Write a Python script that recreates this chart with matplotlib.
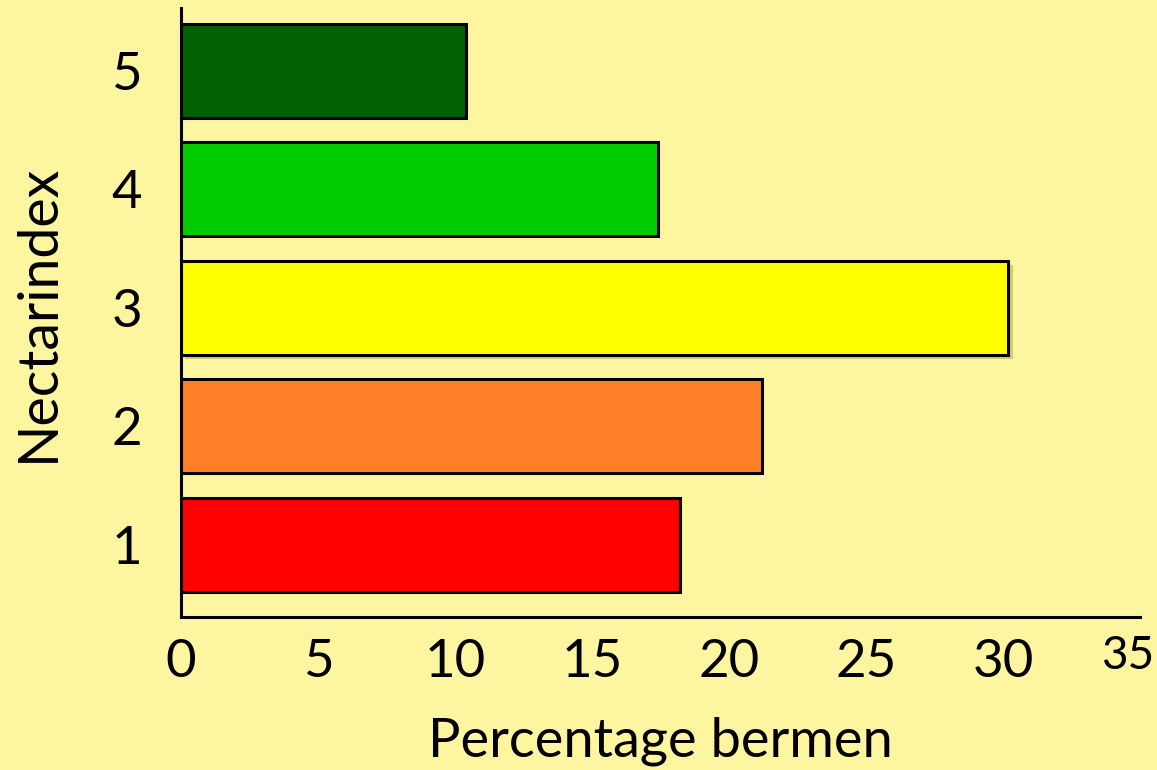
import matplotlib.pyplot as plt
import matplotlib.patheffects as pe
from matplotlib.transforms import ScaledTranslation

# data
nectar_index = [1, 2, 3, 4, 5]
percentage = [18.2, 21.2, 30.2, 17.4, 10.4]
bar_colors = ["#ff0000", "#ff7f27", "#ffff00", "#00cc00", "#006100"]
x_ticks = [0, 5, 10, 15, 20, 25, 30, 35]

bg = "#fef5a0"
plt.rcParams['font.family'] = ['Lato', 'DejaVu Sans']

fig = plt.figure(figsize=(11.57, 7.70), dpi=100, facecolor=bg)
ax = fig.add_axes([0.1564, 0.1987, 0.9853 - 0.1564, 0.9896 - 0.1987])
ax.set_facecolor(bg)

bars = ax.barh(nectar_index, percentage, height=0.79, color=bar_colors,
               edgecolor="black", linewidth=2.2)
# the yellow bar has a faint drop shadow in the original
bars[2].set_path_effects([pe.SimplePatchShadow(offset=(3, -3), alpha=0.25), pe.Normal()])

ax.set_xlim(0, 35)
ax.set_ylim(0.39, 5.53)
ax.set_xticks(x_ticks)
ax.set_yticks(nectar_index)
ax.tick_params(axis="both", length=0, labelsize=38)
ax.tick_params(axis="x", pad=16)
ax.tick_params(axis="y", pad=28)

# last x label sits a bit left and higher, and is smaller
lbl35 = ax.get_xticklabels()[-1]
lbl35.set_fontsize(33)
lbl35.set_transform(lbl35.get_transform() + ScaledTranslation(-0.12, 0.04, fig.dpi_scale_trans))

for s in ["top", "right"]:
    ax.spines[s].set_visible(False)
for s in ["left", "bottom"]:
    ax.spines[s].set_linewidth(2.2)

ax.set_xlabel("Percentage bermen", fontsize=39, labelpad=22)
ax.set_ylabel("Nectarindex", fontsize=40, labelpad=34)

fig.savefig("out.png", dpi=100, facecolor=bg)
